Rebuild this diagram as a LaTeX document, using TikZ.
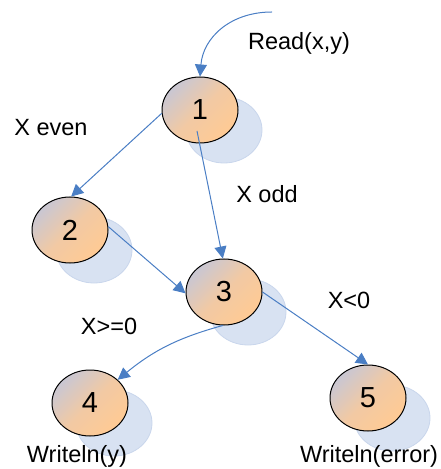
\documentclass[tikz,border=0pt]{standalone}
\usepackage{fontspec}
\setmainfont{Liberation Sans}
\usetikzlibrary{arrows.meta,positioning,shapes.geometric,shadows,calc}
\definecolor{edgeblue}{HTML}{4A7EC4}
\definecolor{shade}{HTML}{D8E2F2}
\definecolor{shadeline}{HTML}{C9D6EC}
\definecolor{lav}{HTML}{C9C7D3}
\definecolor{peach}{HTML}{FFCA94}

\begin{document}
\begin{tikzpicture}[x=0.5pt,y=-0.5pt,
        st/.style={ellipse,draw=black,line width=0.5pt,inner sep=0pt,
                   minimum width=38pt,minimum height=33pt,
                   top color=lav,bottom color=peach,middle color=peach!75!lav,
                   shading angle=45,
                   font=\fontsize{14.5}{16}\selectfont,
                   drop shadow={shadow xshift=12pt,shadow yshift=-10pt,
                                fill=shade,draw=shadeline,line width=0.4pt,opacity=1}},
        lbl/.style={font=\fontsize{11.75}{14}\selectfont,anchor=base,inner sep=0pt},
        ar/.style={draw=edgeblue,line width=0.5pt,-{Triangle[length=6pt,width=6pt]}}]
        \useasboundingbox (0,0) rectangle (440,469);
        % states
        \node[st] (n1) at (200,110) {1};
        \node[st] (n2) at (70,230) {2};
        \node[st] (n3) at (224,292) {3};
        \node[st] (n4) at (90,403) {4};
        \node[st] (n5) at (368,398) {5};
        % labels
        \node[lbl] (rd) at (299,50) {Read(x,y)};
        \node[lbl] (xe) at (51,136) {X even};
        \node[lbl] (xo) at (267,203) {X odd};
        \node[lbl] (xge) at (109,334) {X>=0};
        \node[lbl] (xlt) at (349,308) {X<0};
        \node[lbl] (wy) at (77,462) {Writeln(y)};
        \node[lbl] (we) at (369,462) {Writeln(error)};
        % transitions
        \coordinate (in) at (272,12);
        \draw[ar] (in) .. controls (230,12) and (203,38) .. (n1.north);
        \draw[ar] (n1.185) -- (n2.88);
        \draw[ar] ($(n1.center)+(-3,21)$) -- (n3.92);
        \draw[ar] (n2.5) -- (n3.182);
        \draw[ar] (n3.268) to[bend right=12] (n4.40);
        \draw[ar] (n3.east) -- (n5.north);
\end{tikzpicture}
\end{document}
